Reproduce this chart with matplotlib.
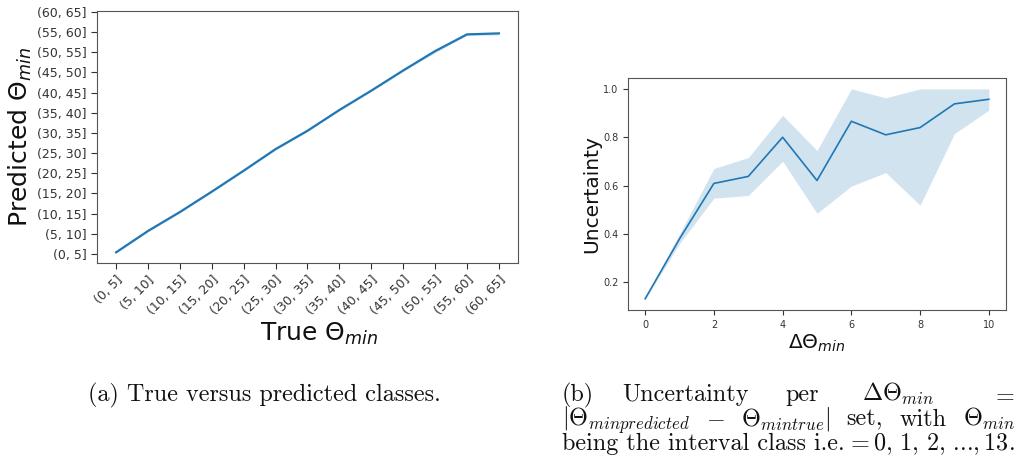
import matplotlib
matplotlib.use("Agg")
import matplotlib.pyplot as plt
import numpy as np

# ---- data ----
classes = ["(0, 5]", "(5, 10]", "(10, 15]", "(15, 20]", "(20, 25]", "(25, 30]",
           "(30, 35]", "(35, 40]", "(40, 45]", "(45, 50]", "(50, 55]", "(55, 60]", "(60, 65]"]
pred_mean = [0.08, 1.14, 2.08, 3.09, 4.13, 5.20, 6.11, 7.14, 8.10, 9.10, 10.06, 10.89, 10.94]
pred_low = [0.05, 1.10, 2.04, 3.05, 4.09, 5.16, 6.07, 7.10, 8.06, 9.05, 9.98, 10.84, 10.86]
pred_high = [0.11, 1.18, 2.12, 3.13, 4.17, 5.24, 6.15, 7.18, 8.14, 9.15, 10.12, 10.94, 11.0]

delta = [0, 1, 2, 3, 4, 5, 6, 7, 8, 9, 10]
unc_mean = [0.132, 0.38, 0.609, 0.638, 0.800, 0.621, 0.866, 0.810, 0.840, 0.938, 0.957]
unc_low = [0.130, 0.36, 0.548, 0.559, 0.701, 0.485, 0.598, 0.654, 0.519, 0.815, 0.912]
unc_high = [0.134, 0.40, 0.671, 0.716, 0.891, 0.745, 1.0, 0.963, 1.0, 1.0, 1.0]

caption_a = "(a) True versus predicted classes."
caption_b1 = ["(b)", "Uncertainty", "per", r"$\Delta\Theta_{min}$", r"$=$"]
caption_b2 = [r"$|\Theta_{minpredicted}$", r"$-$", r"$\Theta_{mintrue}|$", "set,", "with", r"$\Theta_{min}$"]
caption_b3 = ["being the interval class i.e.", r"$=0,\,1,\,2,\,$...$,13.$"]

plt.rcParams["mathtext.fontset"] = "dejavusans"
blue = "#1f77b4"
txt = "#333333"
spine_c = "#555555"

fig = plt.figure(figsize=(10.2, 4.68), dpi=100)
W, H = 1020, 468

def ax_at(x0, y0, x1, y1):
    return fig.add_axes([x0 / W, 1 - y1 / H, (x1 - x0) / W, (y1 - y0) / H])

# ---- left panel ----
ax1 = ax_at(97, 11, 518, 263)
xi = np.arange(len(classes))
ax1.fill_between(xi, pred_low, pred_high, color=blue, alpha=0.2, lw=0)
ax1.plot(xi, pred_mean, color=blue, lw=1.6)
ax1.set_xlim(-0.6, 12.6)
ax1.set_ylim(-0.45, 12.05)
ax1.set_xticks(xi)
ax1.set_xticklabels(classes, rotation=45, ha="right", rotation_mode="anchor")
ax1.set_yticks(xi)
ax1.set_yticklabels(classes)
ax1.tick_params(labelsize=9, colors=txt, length=4)
ax1.set_xlabel(r"True $\Theta_{min}$", fontsize=18, color="#111111", labelpad=2)
ax1.xaxis.label.set_x(0.527)
ax1.set_ylabel(r"Predicted $\Theta_{min}$", fontsize=18, color="#111111", labelpad=2)
for s in ax1.spines.values():
    s.set_color(spine_c)

# ---- right panel ----
ax2 = ax_at(628, 78, 1006, 310)
ax2.fill_between(delta, unc_low, unc_high, color=blue, alpha=0.2, lw=0)
ax2.plot(delta, unc_mean, color=blue, lw=1.2)
ax2.set_xlim(-0.5, 10.5)
ax2.set_ylim(0.0855, 1.045)
ax2.set_xticks([0, 2, 4, 6, 8, 10])
ax2.set_yticks([0.2, 0.4, 0.6, 0.8, 1.0])
ax2.tick_params(labelsize=7, colors=txt, length=3.5)
ax2.set_xlabel(r"$\Delta\Theta_{min}$", fontsize=14.5, color="#111111", labelpad=2)
ax2.set_ylabel("Uncertainty", fontsize=14.5, color="#111111", labelpad=1)
for s in ax2.spines.values():
    s.set_color(spine_c)

# ---- captions ----
plt.rcParams["mathtext.fontset"] = "cm"
cap = dict(fontfamily="cmr10", fontsize=17.4, color="#111111", va="baseline")
fig.text(88 / W, 1 - 401 / H, caption_a, ha="left", **cap)
renderer = fig.canvas.get_renderer()
X0, X1 = 562, 1015

def place(pieces, xs, y):
    for i, (p, x) in enumerate(zip(pieces, xs)):
        ha = "right" if i == len(pieces) - 1 else "left"
        fig.text(x / W, 1 - y / H, p, ha=ha, **cap)

def justify(pieces, y):
    ts = [fig.text(0, 1 - y / H, p, ha="left", **cap) for p in pieces]
    ws = [t.get_window_extent(renderer).width for t in ts]
    gap = (X1 - X0 - sum(ws)) / (len(ts) - 1)
    x = X0
    for t, w in zip(ts, ws):
        t.set_x(x / W)
        x += w + gap

place(caption_b1, [X0, 622, 785, 862, X1], 401)
justify(caption_b2, 425.5)
justify(caption_b3, 450)

fig.savefig("out.png", dpi=100)
